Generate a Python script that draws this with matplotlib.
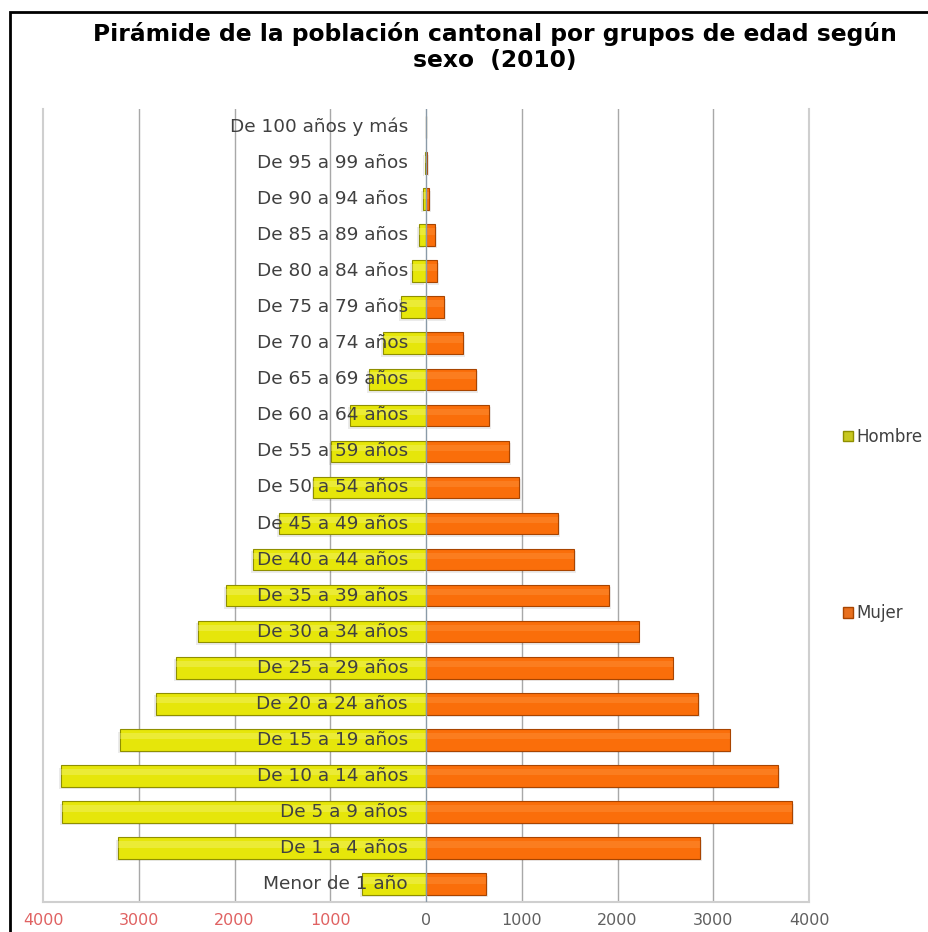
import matplotlib
matplotlib.use('Agg')
import matplotlib.pyplot as plt
import matplotlib.transforms as mtransforms
from matplotlib.patches import Rectangle, Patch
import numpy as np

# age groups, listed from the bottom bar to the top bar
grupos = ['Menor de 1 año', 'De 1 a 4 años', 'De 5 a 9 años', 'De 10 a 14 años',
          'De 15 a 19 años', 'De 20 a 24 años', 'De 25 a 29 años', 'De 30 a 34 años',
          'De 35 a 39 años', 'De 40 a 44 años', 'De 45 a 49 años', 'De 50 a 54 años',
          'De 55 a 59 años', 'De 60 a 64 años', 'De 65 a 69 años', 'De 70 a 74 años',
          'De 75 a 79 años', 'De 80 a 84 años', 'De 85 a 89 años', 'De 90 a 94 años',
          'De 95 a 99 años', 'De 100 años y más']
hombre = [670, 3220, 3800, 3810, 3200, 2820, 2610, 2380, 2090, 1810, 1540,
          1175, 995, 790, 600, 450, 260, 150, 75, 30, 12, 4]
mujer = [630, 2860, 3820, 3680, 3170, 2845, 2575, 2220, 1915, 1550, 1380,
         975, 870, 660, 525, 390, 190, 115, 95, 30, 12, 5]
xticks = [-4000, -3000, -2000, -1000, 0, 1000, 2000, 3000, 4000]
xlabels = ['4000', '3000', '2000', '1000', '0', '1000', '2000', '3000', '4000']
titulo = 'Pirámide de la población cantonal por grupos de edad según\nsexo  (2010)'

c_hombre, e_hombre, l_hombre = '#e6e60a', '#8f8f00', '#f7f78a'
c_mujer, e_mujer, l_mujer = '#fa6e0a', '#a84400', '#ffa050'

fig = plt.figure(figsize=(9.29, 9.32), dpi=100)
ax = fig.add_axes([43 / 929, 1 - 902 / 932, 766 / 929, 793 / 932])

y = np.arange(len(grupos))
neg_h = -np.array(hombre)
h = 0.6

# soft shadow, main bar, highlight stripe (fake 3D look of the original)
ax.barh(y - 0.07, neg_h, height=h, left=-20, color='#000000', alpha=0.08, zorder=2)
ax.barh(y - 0.07, mujer, height=h, left=20, color='#000000', alpha=0.08, zorder=2)
ax.barh(y, neg_h, height=h, color=c_hombre, edgecolor=e_hombre, linewidth=0.8, zorder=3)
ax.barh(y, mujer, height=h, color=c_mujer, edgecolor=e_mujer, linewidth=0.8, zorder=3)
ax.barh(y + 0.1, neg_h, height=h * 0.3, color=l_hombre, alpha=0.35, linewidth=0, zorder=4)
ax.barh(y + 0.1, mujer, height=h * 0.3, color=l_mujer, alpha=0.3, linewidth=0, zorder=4)

ax.set_xlim(-4000, 4000)
ax.set_ylim(-0.5, len(grupos) - 0.5)

for gx in [-3000, -2000, -1000, 1000, 2000, 3000]:
    ax.axvline(gx, color='#a8a8a8', linewidth=1, zorder=1)
ax.axvline(0, color='#8a9aa8', linewidth=1, zorder=5)

# category labels sit over the bars just left of zero
off = mtransforms.offset_copy(ax.transData, fig=fig, x=-18, y=0, units='dots')
for yi, g in zip(y, grupos):
    ax.text(0, yi, g, transform=off, ha='right', va='center', fontsize=13.3,
            color='#404040', zorder=6)

ax.set_yticks([])
ax.set_xticks(xticks)
ax.set_xticklabels(xlabels, fontsize=11.5)
for lab, v in zip(ax.get_xticklabels(), xticks):
    lab.set_color('#e06262' if v < 0 else '#606060')
ax.tick_params(axis='x', length=0, pad=8)

ax.spines['top'].set_visible(False)
for s in ['left', 'right', 'bottom']:
    ax.spines[s].set_color('#cfcfcf')
    ax.spines[s].set_linewidth(1.5)

fig.text(495 / 929, 1 - 22 / 932, titulo, ha='center', va='top', fontsize=16.8,
         fontweight='bold', color='#000000', linespacing=1.15)

handles = [Patch(facecolor='#c8c820', edgecolor='#8f8f00'),
           Patch(facecolor='#e8701e', edgecolor='#a84400')]
fig.legend(handles, ['Hombre', 'Mujer'], loc='upper left',
           bbox_to_anchor=(843 / 929, 1 - 428 / 932), frameon=False,
           fontsize=12, labelspacing=9.5, handlelength=0.6, handleheight=0.6,
           handletextpad=0.2, borderpad=0, borderaxespad=0, labelcolor='#404040')

# black frame of the original picture, cut by the right and bottom edges
fig.patches.append(Rectangle((10 / 929, -0.05), 1.2, 1 - 12 / 932 + 0.05,
                             transform=fig.transFigure, fill=False,
                             edgecolor='#000000', linewidth=2))

fig.savefig('out.png', dpi=100)
